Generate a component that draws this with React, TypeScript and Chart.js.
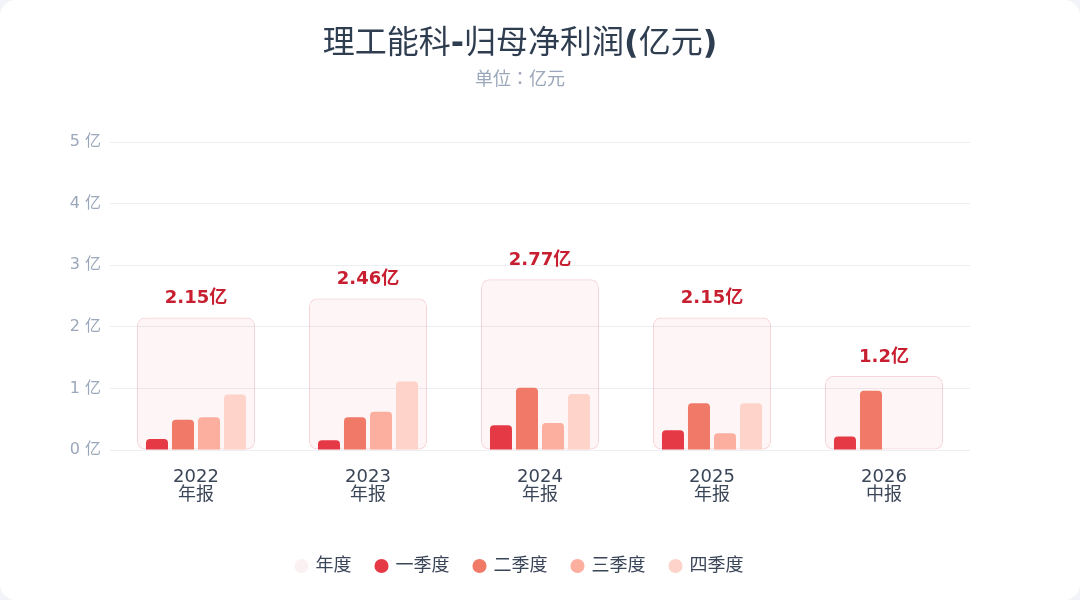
import React, { useEffect, useRef } from "react";
import { Chart, registerables } from "chart.js";

Chart.register(...registerables);

const years = ["2022", "2023", "2024", "2025", "2026"];
const periods = ["年报", "年报", "年报", "年报", "中报"];
const annual = [2.15, 2.46, 2.77, 2.15, 1.2];
const q1 = [0.18, 0.16, 0.4, 0.32, 0.22];
const q2 = [0.49, 0.53, 1.01, 0.76, 0.96];
const q3 = [0.53, 0.62, 0.44, 0.27, null];
const q4 = [0.9, 1.11, 0.91, 0.76, null];
const yTicks = [0, 1, 2, 3, 4, 5];

const TITLE_TEXT = "理工能科-归母净利润(亿元)";
const SUBTITLE_TEXT = "单位：亿元";

const FONT = '"DejaVu Sans", "Noto Sans CJK SC", sans-serif';
const TITLE_PAD_TOP = 25;
const TITLE_SIZE = 32;

// Title drawn with bold Latin punctuation and regular CJK glyphs
const titlePlugin = {
  id: "mixedTitle",
  afterDraw(chart: any) {
    const tb = chart.titleBlock;
    if (!tb) return;
    const ctx = chart.ctx;
    ctx.save();
    ctx.fillStyle = "#2f3d50";
    ctx.textBaseline = "middle";
    ctx.textAlign = "left";
    const segs: { t: string; bold: boolean }[] = [];
    for (const ch of TITLE_TEXT) {
      const bold = /[-()]/.test(ch);
      const last = segs[segs.length - 1];
      if (last && last.bold === bold) last.t += ch;
      else segs.push({ t: ch, bold });
    }
    const fontOf = (b: boolean) => `${b ? "bold" : "normal"} ${TITLE_SIZE}px ${FONT}`;
    let total = 0;
    const widths = segs.map((s) => {
      ctx.font = fontOf(s.bold);
      const w = ctx.measureText(s.t).width;
      total += w;
      return w;
    });
    let x = (tb.left + tb.right) / 2 - total / 2;
    const y = tb.top + TITLE_PAD_TOP + (TITLE_SIZE * 1.2) / 2;
    segs.forEach((s, i) => {
      ctx.font = fontOf(s.bold);
      ctx.fillText(s.t, x, y);
      x += widths[i];
    });
    ctx.restore();
  },
};

const labelPlugin = {
  id: "annualLabels",
  afterDatasetsDraw(chart: any) {
    const meta = chart.getDatasetMeta(0);
    const ctx = chart.ctx;
    ctx.save();
    ctx.font = `bold 18px ${FONT}`;
    ctx.fillStyle = "#c81f30";
    ctx.textAlign = "center";
    ctx.textBaseline = "middle";
    meta.data.forEach((bar: any, i: number) => {
      ctx.fillText(`${annual[i]}亿`, bar.x, bar.y - 19);
    });
    ctx.restore();
  },
};

export default function App() {
  const ref = useRef<HTMLCanvasElement>(null);

  useEffect(() => {
    if (!ref.current) return;
    const labels = years.map((y, i) => [y, periods[i]]);
    const qOpts = {
      order: 0,
      categoryPercentage: 0.605,
      barPercentage: 0.846,
      borderRadius: 4,
    };
    const chart = new Chart(ref.current, {
      type: "bar",
      data: {
        labels,
        datasets: [
          {
            label: "年度",
            data: annual,
            order: 1,
            grouped: false,
            backgroundColor: "rgba(236, 170, 178, 0.12)",
            borderColor: "rgba(236, 160, 170, 0.45)",
            borderWidth: 1,
            borderRadius: 8,
            borderSkipped: false,
            categoryPercentage: 1,
            barPercentage: 0.686,
          } as any,
          { label: "一季度", data: q1, backgroundColor: "#e63946", ...qOpts } as any,
          { label: "二季度", data: q2, backgroundColor: "#f07a67", ...qOpts } as any,
          { label: "三季度", data: q3, backgroundColor: "#fcae9f", ...qOpts } as any,
          { label: "四季度", data: q4, backgroundColor: "#fdd3ca", ...qOpts } as any,
        ],
      },
      options: {
        responsive: false,
        animation: false,
        devicePixelRatio: 1,
        layout: { padding: { left: 70, right: 110, top: 0, bottom: 15 } },
        plugins: {
          title: {
            display: true,
            text: TITLE_TEXT,
            color: "rgba(0,0,0,0)",
            font: { size: TITLE_SIZE, family: FONT, weight: "normal" },
            padding: { top: TITLE_PAD_TOP, bottom: 4 },
          },
          subtitle: {
            display: true,
            text: SUBTITLE_TEXT,
            color: "#9ba7ba",
            font: { size: 18, family: '"Noto Sans CJK JP", "Noto Sans CJK SC", sans-serif' },
            padding: { top: 0, bottom: 53 },
          },
          legend: {
            position: "bottom",
            labels: {
              usePointStyle: true,
              pointStyle: "circle",
              boxWidth: 10,
              boxHeight: 10,
              padding: 25,
              color: "#3a4658",
              font: { size: 18, family: FONT },
              sort: (a: any, b: any) => a.datasetIndex - b.datasetIndex,
              generateLabels: (chart: any) => {
                const items = Chart.defaults.plugins.legend.labels.generateLabels(chart);
                return items.map((it: any) =>
                  it.datasetIndex === 0
                    ? { ...it, fillStyle: "#fbf1f2", strokeStyle: "#fbf1f2", lineWidth: 0 }
                    : it
                );
              },
            },
          },
          tooltip: { enabled: false },
        },
        scales: {
          x: {
            grid: { display: false },
            border: { display: false },
            ticks: {
              color: "#3a4658",
              font: { size: 18, family: FONT, lineHeight: 1.0 },
              padding: 10,
            },
            afterFit: (s: any) => {
              s.height = 82;
            },
          },
          y: {
            min: 0,
            max: 5,
            afterBuildTicks: (s: any) => {
              s.ticks = yTicks.map((v) => ({ value: v }));
            },
            grid: { color: "#eceef3", drawTicks: false },
            border: { display: false },
            ticks: {
              color: "#9ba7ba",
              font: { size: 16, family: FONT },
              padding: 9,
              callback: (v: any) => `${v} 亿`,
            },
            afterFit: (s: any) => {
              s.width = 40;
            },
          },
        },
      } as any,
      plugins: [labelPlugin, titlePlugin],
    });
    return () => chart.destroy();
  }, []);

  return (
    <div
      style={{
        position: "fixed",
        inset: 0,
        background: "#f2f4f7",
      }}
    >
      <div
        style={{
          position: "absolute",
          left: 0,
          top: 0,
          width: 1080,
          height: 600,
          background: "#ffffff",
          borderRadius: 16,
          overflow: "hidden",
        }}
      >
        <canvas ref={ref} width={1080} height={600} style={{ display: "block" }} />
      </div>
    </div>
  );
}
